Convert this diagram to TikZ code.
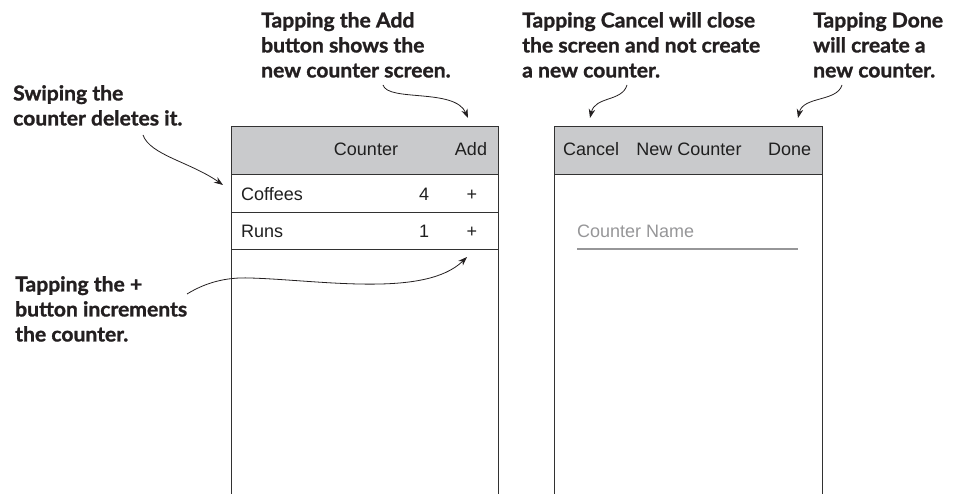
\documentclass[tikz,border=0pt]{standalone}
\usepackage{fontspec}
\setmainfont{Liberation Sans}
\newfontfamily\annfont{Lato}[FakeStretch=1.03, FakeBold=1.3]
\usetikzlibrary{arrows.meta}
\definecolor{hdr}{RGB}{201,202,204}
\definecolor{frame}{RGB}{50,50,50}
\definecolor{ink}{RGB}{35,31,32}
\definecolor{hint}{RGB}{150,150,152}
\tikzset{
  ann/.style={font=\annfont\bfseries\fontsize{20.5}{25}\selectfont, text=ink, align=left, anchor=north west, inner sep=0pt},
  ui/.style={font=\fontsize{18}{20}\selectfont, text=black!88, inner sep=0pt, anchor=base west},
  uic/.style={font=\fontsize{18}{20}\selectfont, text=black!88, inner sep=0pt, anchor=base},
  callout/.style={ink, line width=0.8pt, -{Stealth[length=9pt,width=6.5pt]}},
  edge/.style={frame, line width=1pt}
}
\begin{document}
\begin{tikzpicture}[x=1pt,y=-1pt]
\useasboundingbox (0,0) rectangle (953,494);
% left phone
\fill[hdr] (231,127) rectangle (498,175);
\draw[edge] (231,494) -- (231,127) -- (498,127) -- (498,494);
\draw[edge] (231,175) -- (498,175);
\draw[edge] (231,213) -- (498,213);
\draw[edge] (231,250) -- (498,250);
\node[uic] (ctitle) at (366,156) {Counter};
\node[uic] (cadd) at (471,156) {Add};
\node[ui] (coffees) at (241,201) {Coffees};
\node[uic] (c4) at (424,201) {4};
\node[uic] (cplus1) at (472,201) {+};
\node[ui] (runs) at (241,238) {Runs};
\node[uic] (c1) at (424,238) {1};
\node[uic] (cplus2) at (472,238) {+};
% right phone
\fill[hdr] (554,127) rectangle (822,175);
\draw[edge] (554,494) -- (554,127) -- (822,127) -- (822,494);
\draw[edge] (554,175) -- (822,175);
\node[ui] (cancel) at (563,156) {Cancel};
\node[uic] (newc) at (689,156) {New Counter};
\node[ui] (done) at (768,156) {Done};
\node[ui, text=hint] (cname) at (577,238) {Counter Name};
\draw[hint, line width=1.2pt] (577,249) -- (798,249);
% annotations
\node[ann] (aswipe) at (13,85) {Swiping the\\counter deletes it.};
\node[ann] (aadd) at (261,12) {Tapping the Add\\button shows the\\new counter screen.};
\node[ann] (acancel) at (522,12) {Tapping Cancel will close\\the screen and not create\\a new counter.};
\node[ann] (adone) at (813,12) {Tapping Done\\will create a\\new counter.};
\node[ann] (aplus) at (15,276) {Tapping the +\\button increments\\the counter.};
% arrow ends
\coordinate (s1) at (143,135); \coordinate (t1) at (223,185);
\coordinate (s2) at (383,85);  \coordinate (t2) at (468,118);
\coordinate (s3) at (627,85);  \coordinate (t3) at (590,118);
\coordinate (s4) at (842,85);  \coordinate (t4) at (798,118);
\coordinate (s5) at (187,294); \coordinate (m5) at (250,278); \coordinate (t5) at (467,257);
\draw[callout] (s1) .. controls (150,155) and (190,162) .. (t1);
\draw[callout] (s2) .. controls (388,102) and (455,88) .. (t2);
\draw[callout] (s3) .. controls (622,102) and (595,96) .. (t3);
\draw[callout] (s4) .. controls (837,102) and (803,96) .. (t4);
\draw[callout] (s5) .. controls (205,283) and (225,277) .. (m5) .. controls (320,280) and (425,298) .. (t5);
\end{tikzpicture}
\end{document}
